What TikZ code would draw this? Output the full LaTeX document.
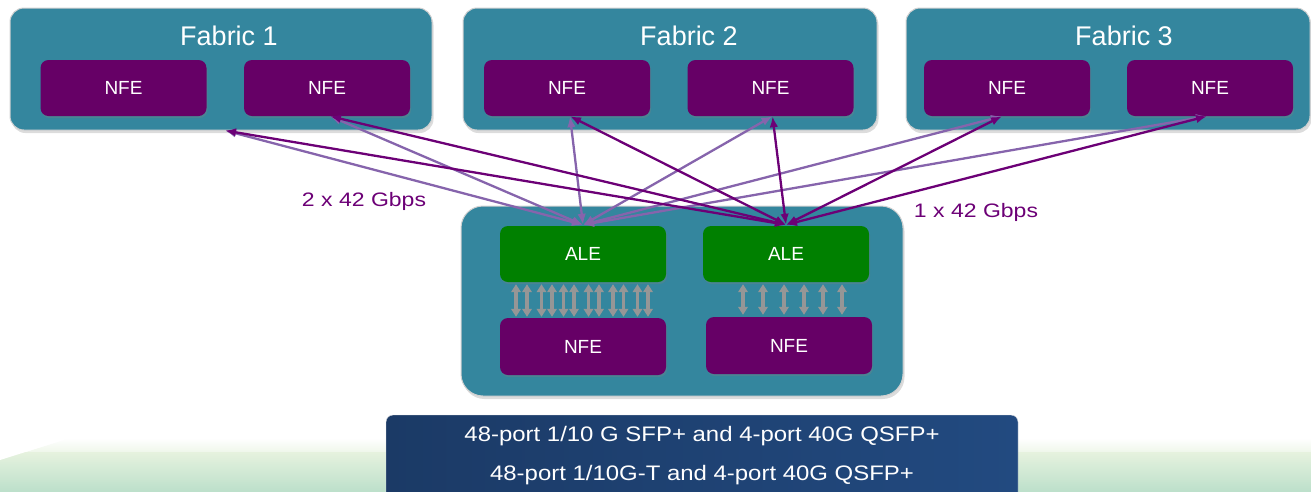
\documentclass[tikz,border=0pt]{standalone}
\usepackage{fontspec}
\setmainfont{Liberation Sans}
\usetikzlibrary{shadows,arrows.meta}

\definecolor{fabricteal}{RGB}{52,134,158}
\definecolor{nfepurple}{RGB}{102,0,102}
\definecolor{alegreen}{RGB}{0,128,0}
\definecolor{linkdark}{RGB}{108,0,118}
\definecolor{linklight}{RGB}{134,100,172}
\definecolor{busgray}{RGB}{150,150,150}
\definecolor{portleft}{RGB}{27,58,102}
\definecolor{portright}{RGB}{34,74,128}
\definecolor{meadow}{RGB}{189,224,203}
\definecolor{meadowtop}{RGB}{230,242,222}

\tikzset{
  chassis/.style={draw=black!18, line width=1pt, fill=fabricteal, rounded corners=14pt,
    drop shadow={opacity=0.28, shadow xshift=1.5pt, shadow yshift=-3pt}},
  chip/.style={rounded corners=8pt, text=white, inner sep=0pt,
    minimum width=166pt, minimum height=56pt,
    font=\fontsize{19}{22}\selectfont,
    drop shadow={opacity=0.3, shadow xshift=1pt, shadow yshift=-2pt}},
  nfebox/.style={chip, fill=nfepurple},
  alebox/.style={chip, fill=alegreen},
  fabtitle/.style={text=white, inner sep=0pt, font=\fontsize{27}{32}\selectfont},
  rate/.style={text=linkdark, inner sep=0pt, font=\fontsize{19.5}{23}\selectfont},
  portline/.style={text=white, inner sep=0pt, font=\fontsize{21}{25}\selectfont},
  uplinktip/.style={{Latex[length=11pt,width=8.5pt]}-{Latex[length=11pt,width=8.5pt]}},
  uplinkA/.style={draw=linklight, line width=2.3pt, uplinktip},
  uplinkB/.style={draw=linkdark, line width=2.3pt, uplinktip},
  lane/.style={draw=busgray, line width=3.2pt, {Triangle[length=8pt,width=9.5pt]}-{Triangle[length=8pt,width=9.5pt]}},
}

\begin{document}
\begin{tikzpicture}[x=1pt,y=-1pt]
\useasboundingbox (0,0) rectangle (1311,491);
\clip (0,0) rectangle (1311,491);

% soft green ground
\shade[top color=white, bottom color=meadowtop]
  (0,460) -- (70,438) -- (1311,438) -- (1311,452) -- (0,452) -- cycle;
\shade[top color=meadowtop, bottom color=meadow]
  (0,452) -- (1311,452) -- (1311,491) -- (0,491) -- cycle;
\fill[white] (0,438) -- (70,438) -- (0,460) -- cycle;

% fabric chassis
\node[chassis, minimum width=422pt, minimum height=122pt] (fab1) at (221,69) {};
\node[chassis, minimum width=414pt, minimum height=122pt] (fab2) at (670,69) {};
\node[chassis, minimum width=404pt, minimum height=122pt] (fab3) at (1108,69) {};

\node[fabtitle] (t1) at (229,36) {Fabric 1};
\node[fabtitle] (t2) at (689,36) {Fabric 2};
\node[fabtitle] (t3) at (1124,36) {Fabric 3};

\node[nfebox] (n11) at (123.5,88) {NFE};
\node[nfebox] (n12) at (327,88) {NFE};
\node[nfebox] (n21) at (567,88) {NFE};
\node[nfebox] (n22) at (770.5,88) {NFE};
\node[nfebox] (n31) at (1007,88) {NFE};
\node[nfebox] (n32) at (1210,88) {NFE};

% leaf switch
\node[chassis, rounded corners=22pt, minimum width=442pt, minimum height=190pt] (leaf) at (682,301) {};
\node[alebox] (ale1) at (583,254) {ALE};
\node[alebox] (ale2) at (786,254) {ALE};
\node[nfebox, minimum height=57pt] (n41) at (583,346.5) {NFE};
\node[nfebox, minimum height=57pt] (n42) at (789,345.5) {NFE};

% internal lanes between ALE and NFE
\foreach \x in {516,527,541.5,552,563.5,574,588.5,599,613,623.5,637.5,648}
  \draw[lane] (ale1.south -| \x,0) ++(0,2) -- ([yshift=1pt]n41.north -| \x,0);
\foreach \x in {743,763,784,804,823,842}
  \draw[lane] (ale2.south -| \x,0) ++(0,2) -- ([yshift=2pt]n42.north -| \x,0);

% uplink end points on the fabrics
\coordinate (u11) at ([xshift=4pt]fab1.south);
\coordinate (u12) at ([xshift=3pt]n12.south);
\coordinate (u21) at ([xshift=3pt]n21.south);
\coordinate (u22) at ([xshift=2pt]n22.south);
\coordinate (u31) at ([xshift=-5pt]n31.south);
\coordinate (u32) at ([xshift=-3pt]n32.south);

% uplinks to the first ALE
\foreach \u in {u11,u12,u21,u22,u31,u32}
  \draw[uplinkA] (\u) -- ([yshift=1pt]ale1.north);
% uplinks to the second ALE
\foreach \u in {u11,u12,u21,u22,u31,u32}
  \draw[uplinkB] (\u) -- ([yshift=1pt]ale2.north);

\node[rate] (r2) at (364,201) {\scalebox{1.18}[1]{2 x 42 Gbps}};
\node[rate] (r1) at (976,212) {\scalebox{1.18}[1]{1 x 42 Gbps}};

% port summary
\node[rounded corners=7pt, left color=portleft, right color=portright, draw=black!10,
  minimum width=632pt, minimum height=86pt] (ports) at (702,458) {};
\node[portline] (p1) at (702,436) {\scalebox{1.14}[1]{48-port 1/10 G SFP+ and 4-port 40G QSFP+}};
\node[portline] (p2) at (702,475) {\scalebox{1.14}[1]{48-port 1/10G-T and 4-port 40G QSFP+}};
\end{tikzpicture}
\end{document}
